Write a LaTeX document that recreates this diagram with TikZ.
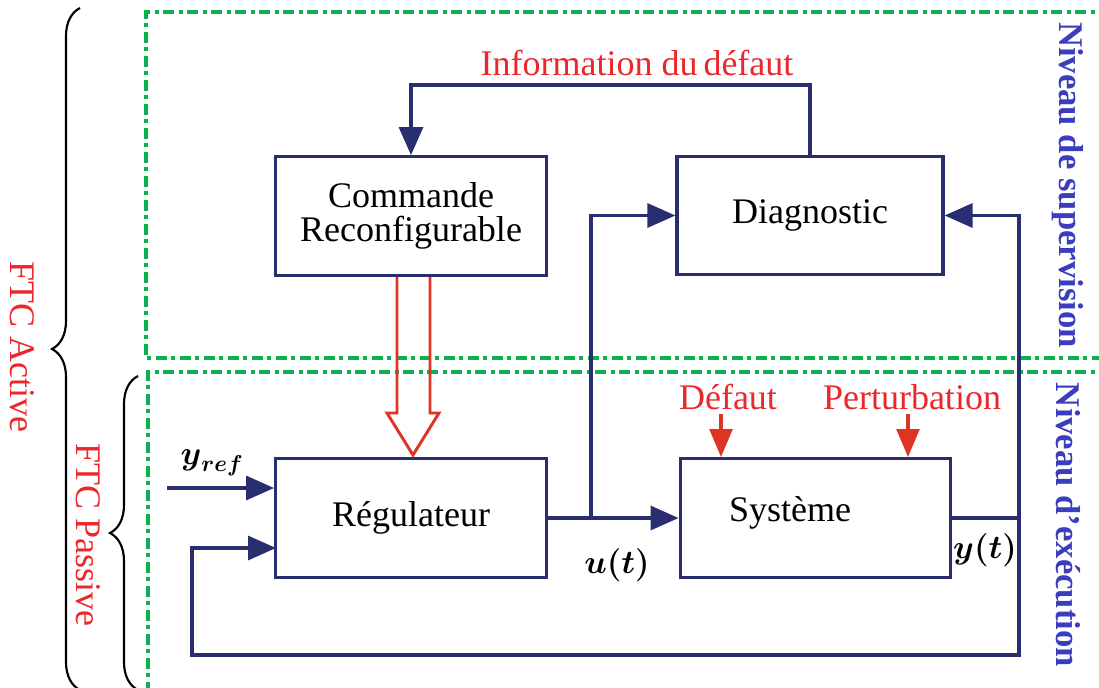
\documentclass[tikz,border=0pt]{standalone}
\usepackage{amsmath}
\usepackage{fontspec}
\setmainfont{Liberation Serif}
\usetikzlibrary{arrows.meta,decorations.pathreplacing}

\definecolor{navy}{RGB}{40,46,112}
\definecolor{ftcred}{RGB}{236,38,42}
\definecolor{arrred}{RGB}{222,52,36}
\definecolor{lvlgreen}{RGB}{12,176,76}
\definecolor{lvlblue}{RGB}{58,62,190}

\tikzset{every picture/.style={line width=0.75pt}}
\tikzset{
  blk/.style={draw=navy,line width=2.4pt,minimum width=203pt,minimum height=89pt,inner sep=0pt,font=\fontsize{27}{25}\selectfont,align=center},
  sig/.style={draw=navy,line width=2.4pt,-{Triangle[length=21pt,width=18pt]}},
  wire/.style={draw=navy,line width=2.4pt},
  dist/.style={draw=arrred,line width=2.6pt,-{Triangle[length=21pt,width=17pt]}},
  lvl/.style={draw=lvlgreen,line width=3pt,dash pattern={on 8pt off 3.5pt on 3pt off 3.5pt}},
  txt/.style={inner sep=0.75pt,font=\fontsize{27}{30}\selectfont},
  redtxt/.style={txt,text=ftcred},
  bluetxt/.style={txt,text=lvlblue,font=\fontsize{26}{30}\selectfont\bfseries,rotate=-90},
  brc/.style={draw=black,line width=1.6pt,decorate,decoration={brace,amplitude=21pt}},
}

\begin{document}
\begin{tikzpicture}[x=0.75pt,y=0.75pt,yscale=-1,xscale=1]
\useasboundingbox (0,0) rectangle (1099,687);
\clip (0,0) rectangle (1099,687);

%Shape: supervision and execution levels
\draw [lvl] (1110,12) -- (146,12) -- (146,358) -- (1110,358) ;
\draw [lvl] (1110,372) -- (148,372) -- (148,700) ;

%Blocks
\node [blk] (cmd) at (411,216) {Commande\\Reconfigurable};
\node [blk,minimum width=199.5pt] (diag) at (810,215.5) {Diagnostic};
\node [blk] (reg) at (411,518) {Régulateur};
\node [blk] (sys) at (815.5,518) {};
% Text Node
\node [txt] (systxt) at (790,513) {Système};

%Straight Lines: fault information
\coordinate (inf) at (411,85);
\draw [sig] (diag.north) |- (inf) -- (cmd.north);
% Text Node
\node [redtxt] (infotxt) at (637,63) {Information du\,défaut};

%Shape: reconfiguration arrow
\draw [arrred,line width=2.2pt,line join=miter] (397,277) -- (397,413) -- (387,413) -- (413,455) -- (439,413) -- (430,413) -- (430,277) ;

%Straight Lines: control loop
\coordinate (yin) at (167,488);
\draw [sig] (yin) -- (yin -| reg.west);
\draw [sig] (reg.east) -- (sys.west);
\coordinate (br) at (591,518);
\draw [sig] (br) |- (diag.west);
\coordinate (yo) at (1019,518);
\draw [wire] (sys.east) -- (yo);
\draw [sig] (yo) |- (diag.east);
\coordinate (fb) at (192,655);
\coordinate (rin) at (276,548);
\draw [sig] (yo) |- (fb) |- (rin);

%Straight Lines: disturbances
\coordinate (def) at (721,414);
\coordinate (pert) at (908,414);
\draw [dist] (def) -- (def |- sys.north);
\draw [dist] (pert) -- (pert |- sys.north);

% Text Node
\node [redtxt] (deftxt) at (728,397) {Défaut};
% Text Node
\node [redtxt] (perttxt) at (912,397) {Perturbation};
% Text Node
\node [txt,font=\fontsize{23}{26}\selectfont] (yref) at (212,463) {$\boldsymbol{y}_{\boldsymbol{ref}}$};
% Text Node
\node [txt,font=\fontsize{23}{26}\selectfont] (ut) at (617,565) {$\boldsymbol{u(t)}$};
% Text Node
\node [txt,font=\fontsize{23}{26}\selectfont] (yt) at (985,550) {$\boldsymbol{y(t)}$};

%Braces
\draw [brc] (80,690) -- (80,8) ;
\draw [brc] (138,690) -- (138,376) ;
% Text Node
\node [redtxt,rotate=-90] (active) at (22,347) {FTC Active};
% Text Node
\node [redtxt,rotate=-90] (passive) at (88,535) {FTC Passive};
% Text Node
\node [bluetxt] (sup) at (1068,185) {Niveau de supervision};
% Text Node
\node [bluetxt] (exe) at (1068,525) {Niveau d'exécution};

\end{tikzpicture}
\end{document}
